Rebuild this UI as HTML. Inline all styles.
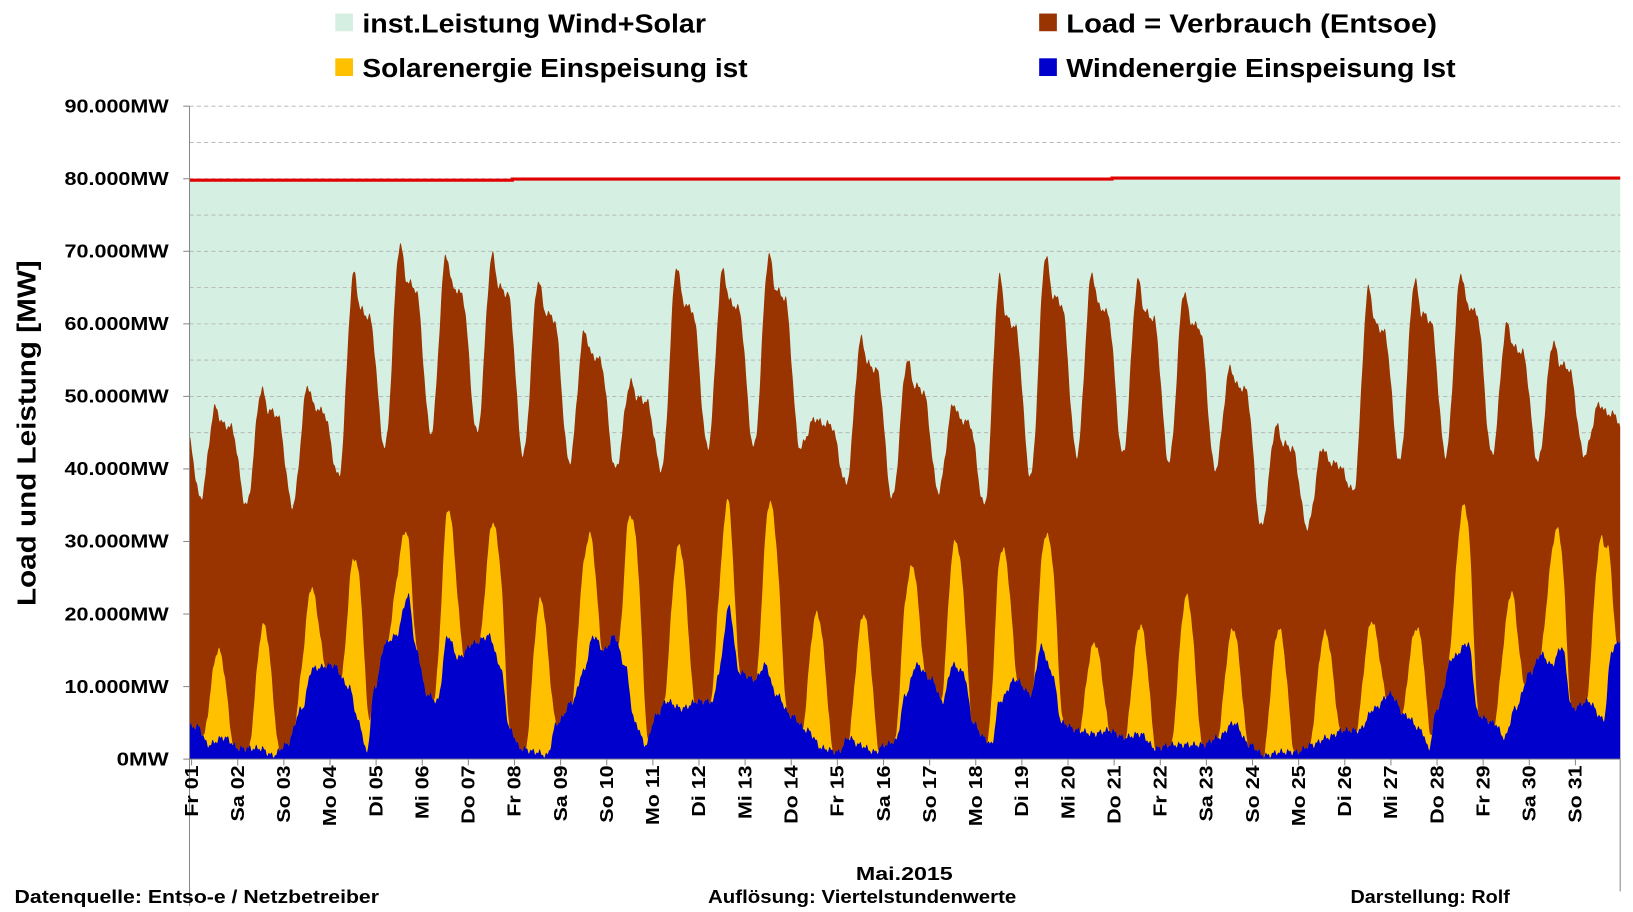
<!DOCTYPE html>
<html><head><meta charset="utf-8"><style>
html,body{margin:0;padding:0;background:#fff;width:1633px;height:912px;overflow:hidden}
svg{display:block}
text{font-family:"Liberation Sans",sans-serif;font-weight:bold;fill:#000}
</style></head><body>
<svg id="c" width="1633" height="912" viewBox="0 0 1568.3 875.8" preserveAspectRatio="none" xmlns="http://www.w3.org/2000/svg">
<g id="plot"></g>
<g id="ax"></g>
<g font-size="25">
<rect x="322" y="13" width="17" height="17" fill="#d5f0e3"/><text x="348" y="31" textLength="330" lengthAdjust="spacingAndGlyphs">inst.Leistung Wind+Solar</text>
<rect x="322" y="56" width="17" height="17" fill="#ffc000"/><text x="348" y="74" textLength="370" lengthAdjust="spacingAndGlyphs">Solarenergie Einspeisung ist</text>
<rect x="998" y="13" width="17" height="17" fill="#993300"/><text x="1024" y="31" textLength="356" lengthAdjust="spacingAndGlyphs">Load =  Verbrauch (Entsoe)</text>
<rect x="998" y="56" width="17" height="17" fill="#0000cc"/><text x="1024" y="74" textLength="374" lengthAdjust="spacingAndGlyphs">Windenergie Einspeisung Ist</text>
</g>
<text font-size="25" transform="translate(34,582) rotate(-90)" textLength="332" lengthAdjust="spacingAndGlyphs">Load und Leistung  [MW]</text>
<g font-size="18">
<text x="822" y="845" textLength="93" lengthAdjust="spacingAndGlyphs">Mai.2015</text>
<text x="14" y="867" textLength="350" lengthAdjust="spacingAndGlyphs">Datenquelle:  Entso-e  / Netzbetreiber</text>
<text x="680" y="867" textLength="296" lengthAdjust="spacingAndGlyphs">Auflösung: Viertelstundenwerte</text>
<text x="1297" y="867" textLength="153" lengthAdjust="spacingAndGlyphs">Darstellung: Rolf</text>
</g>
</svg>
<script>
(function(){
var X0=182,X1=1556,Y0=729,S=6.967;
function X(t){return 185+t*44.3/24;}
function Y(v){return Y0-v*S;}
function cosi(pts,x){
 if(x<=pts[0][0])return pts[0][1];
 for(var i=1;i<pts.length;i++){if(x<=pts[i][0]){var a=pts[i-1],b=pts[i];var f=(x-a[0])/(b[0]-a[0]);f=(1-Math.cos(Math.PI*f))/2;return a[1]+(b[1]-a[1])*f;}}
 return pts[pts.length-1][1];
}
var peak=[48.5,51,51.5,67,71,69.5,69.5,66,59,52,68,67.5,69.5,47,58,55,49,66.5,69.5,67,66,64.5,54,46,43,65,66,67,60,57.5,49];
var mn=[36,35,35,39,43,45,45,42,41,40,40,43,43,43,38,36,37,35,39,42,42,41,40,32,32,37,41,42,42,41,42];
var lp=[[-2,44]];
for(var d=0;d<31;d++){var m=mn[d],p=peak[d];lp.push([d*24+4,m],[d*24+12,p],[d*24+15.5,m+0.82*(p-m)],[d*24+20,m+0.78*(p-m)]);}
lp.push([746,43]);
var wk=[[182,4.5],[190,4.5],[200,2],[215,3],[230,1.5],[250,1.5],[262,0.5],[275,2],[290,7],[300,12.5],[320,13],[335,10],[345,5],[352,1],[360,10],[370,16],[380,17],[392,22.5],[400,15],[410,9],[420,8],[430,17],[440,14],[455,16],[470,17],[480,13],[490,4],[500,1.5],[515,1],[525,0.5],[535,5],[550,8],[560,12],[570,17],[580,15],[590,17],[600,13],[610,5],[620,2],[630,6],[640,8],[655,7],[670,8],[685,8],[690,12],[700,21],[710,12],[725,11],[735,13],[745,9],[760,6],[775,4],[790,1.5],[805,1],[815,3],[825,2],[840,1],[850,2],[860,2.5],[870,9],[880,13],[895,11],[905,8],[915,13],[925,12],[935,5],[945,3],[952,2],[960,8],[975,11],[990,9],[1000,15.5],[1010,12],[1020,5],[1035,4],[1050,3.5],[1065,4],[1080,3],[1095,3.5],[1110,1.5],[1125,2],[1140,2],[1155,2],[1170,3],[1185,5],[1200,2],[1215,0.5],[1230,1],[1245,1],[1260,2],[1275,3],[1290,4],[1305,4],[1320,7],[1335,9],[1350,6],[1365,4],[1372,1.5],[1380,7],[1395,14],[1410,16],[1420,6],[1435,5],[1445,3],[1455,7],[1470,12],[1480,14.5],[1490,13],[1500,15.5],[1510,7],[1525,8],[1540,5.5],[1548,15],[1556,16.5]];
var ytop=[15,18.5,23.5,27,30.5,34.5,32,22,30,32.5,29.5,34.6,35,20,20,26,30,29,30.5,16,18.5,22.5,18,18,17.5,19,18,35,22.5,31.5,30.5];
function wind(x){return Math.max(0.2,cosi(wk,x)+0.3*Math.sin(x*0.9)+0.2*Math.sin(x*2.1));}
var sp=[];for(var d=0;d<31;d++){var xp=X(d*24+13.3);sp.push(Math.max(2,ytop[d]-cosi(wk,xp)));}
var L=[],W=[],Sy=[];
for(var px=X0;px<=X1;px+=0.5){
 var t=(px-185)*24/44.3;
 var l=cosi(lp,t)+0.4*Math.sin(px*0.8)+0.25*Math.sin(px*1.9);
 var w=wind(px);
 var d=Math.floor(t/24),h=t-d*24,s=0;
 if(d>=0&&d<31){var a=(h-5.5)/15.5;if(a>0&&a<1)s=sp[d]*Math.pow(Math.sin(Math.PI*a),1.4);}
 L.push(px.toFixed(1)+","+Y(l).toFixed(1));W.push(px.toFixed(1)+","+Y(w).toFixed(1));Sy.push(px.toFixed(1)+","+Y(w+s).toFixed(1));
}
function area(pts,c){return '<path fill="'+c+'" d="M'+X0+','+Y0+' L'+pts.join(' L')+' L'+X1+','+Y0+' Z"/>';}
var g='';
g+='<path fill="#d5f0e3" d="M182,173 L492,173 L492,172 L1068,172 L1068,171 L1556,171 L1556,729 L182,729 Z"/>';
for(var k=1;k<=18;k++){var y=Y(k*5).toFixed(1);g+='<line x1="182" x2="1556" y1="'+y+'" y2="'+y+'" stroke="#b0b0b0" stroke-width="0.8" stroke-dasharray="4,3"/>';}
g+=area(L,"#993300")+area(Sy,"#ffc000")+area(W,"#0000cc");
g+='<path d="M182,173 L492,173 L492,172 L1068,172 L1068,171 L1556,171" fill="none" stroke="#e00000" stroke-width="3"/>';
document.getElementById("plot").innerHTML=g;
var a='';
a+='<line x1="182" y1="102" x2="182" y2="870" stroke="#888" stroke-width="1"/>';
a+='<line x1="1556" y1="729" x2="1556" y2="856" stroke="#888" stroke-width="1"/>';
a+='<line x1="182" y1="729" x2="1556" y2="729" stroke="#888" stroke-width="1"/>';
var labs=["0MW","10.000MW","20.000MW","30.000MW","40.000MW","50.000MW","60.000MW","70.000MW","80.000MW","90.000MW"];
for(var i=0;i<10;i++){var y=Y(i*10);var tl=(i==0?50:100);a+='<line x1="176" x2="182" y1="'+y+'" y2="'+y+'" stroke="#888"/>';a+='<text x="'+(162-tl)+'" y="'+(y+6)+'" font-size="17.5" textLength="'+tl+'" lengthAdjust="spacingAndGlyphs">'+labs[i]+'</text>';}
var dn=["Fr","Sa","So","Mo","Di","Mi","Do"];
for(var d=0;d<31;d++){var x=184+44.3*d;var dd=(d+1<10?"0":"")+(d+1);
 a+='<line x1="'+x+'" x2="'+x+'" y1="729" y2="735" stroke="#888"/>';
 a+='<text font-size="17.5" text-anchor="end" transform="translate('+(x+6)+',735) rotate(-90) scale(1.18,1)">'+dn[d%7]+' '+dd+'</text>';}
document.getElementById("ax").innerHTML=a;
})();
</script>
</body></html>
